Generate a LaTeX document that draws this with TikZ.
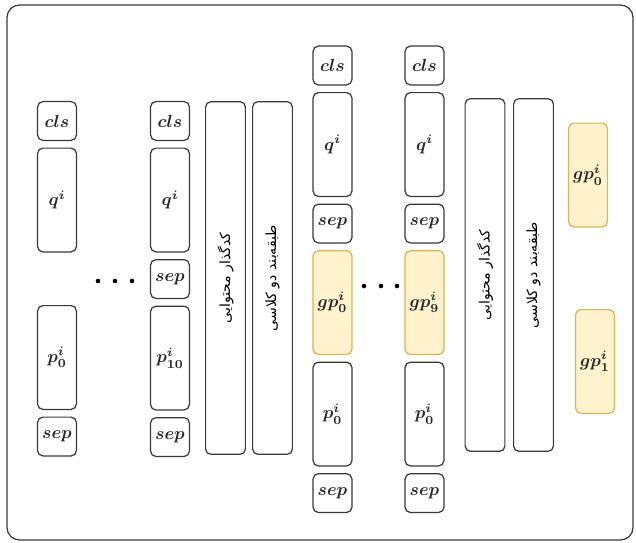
\documentclass[tikz,border=0pt]{standalone}
\usepackage{fontspec}
\usetikzlibrary{positioning}
\newfontfamily\persianfont[Script=Arabic]{DejaVu Sans}
\TeXXeTstate=1
\definecolor{gpfill}{HTML}{FFF2CC}
\definecolor{gpline}{HTML}{D6B656}
\definecolor{boxline}{HTML}{3A3A3A}

\begin{document}
\begin{tikzpicture}[
  x=0.02cm, y=-0.02cm,
  token/.style={
    draw=boxline,
    line width=0.7pt,
    rounded corners=3pt,
    fill=white,
    text=black!85,
    font=\boldmath,
    minimum width=0.776cm,
    minimum height=0.776cm,
    inner sep=0pt,
  },
  segment/.style={
    token,
    minimum height=2.076cm,
  },
  golden/.style={
    segment,
    draw=gpline,
    fill=gpfill,
  },
  module/.style={
    draw=boxline,
    line width=0.7pt,
    rounded corners=3pt,
    rotate=90,
    minimum width=7.055cm,
    minimum height=0.795cm,
    inner sep=0pt,
    font=\persianfont\footnotesize,
  }
]
  \useasboundingbox (0,0) rectangle (636,542);
  \draw[boxline, line width=0.7pt, rounded corners=0.25cm] (7,5) rectangle (633,540);

  % === FIRST STAGE: query with passages ===
  % input 0 (no sep after the query)
  \node[token] (a-cls) at (57,121) {$cls$};
  \node[segment, below=0.13cm of a-cls] (a-q) {$q^i$};
  \node[segment] (a-p) at (57,357.5) {$p^i_0$};
  \node[token, below=0.13cm of a-p] (a-sep) {$sep$};

  % input 10
  \node[token] (b-cls) at (170,121) {$cls$};
  \node[segment, below=0.13cm of b-cls] (b-q) {$q^i$};
  \node[token, below=0.13cm of b-q] (b-sep1) {$sep$};
  \node[segment, below=0.13cm of b-sep1] (b-p) {$p^i_{10}$};
  \node[token, below=0.13cm of b-p] (b-sep2) {$sep$};

  \foreach \x in {98,115,132}
    \fill (\x,281) circle (1.3pt);

  % encoder and classifier
  \node[module] (enc-a) at (225.5,278) {\beginR کدگذار محتوایی\endR};
  \node[module] (clf-a) at (272.5,278) {\beginR طبقه‌بند دو کلاسی\endR};

  % === SECOND STAGE: query, golden passage, passage ===
  \node[token] (c-cls) at (332.5,65.5) {$cls$};
  \node[segment, below=0.13cm of c-cls] (c-q) {$q^i$};
  \node[token, below=0.13cm of c-q] (c-sep1) {$sep$};
  \node[golden, below=0.13cm of c-sep1] (c-gp) {$gp^i_0$};
  \node[segment, below=0.13cm of c-gp] (c-p) {$p^i_0$};
  \node[token, below=0.13cm of c-p] (c-sep2) {$sep$};

  \node[token] (d-cls) at (424.5,65.5) {$cls$};
  \node[segment, below=0.13cm of d-cls] (d-q) {$q^i$};
  \node[token, below=0.13cm of d-q] (d-sep1) {$sep$};
  \node[golden, below=0.13cm of d-sep1] (d-gp) {$gp^i_9$};
  \node[segment, below=0.13cm of d-gp] (d-p) {$p^i_0$};
  \node[token, below=0.13cm of d-p] (d-sep2) {$sep$};

  \foreach \x in {364,381,397}
    \fill (\x,286) circle (1.3pt);

  \node[module] (enc-b) at (485,275) {\beginR کدگذار محتوایی\endR};
  \node[module] (clf-b) at (533.5,275) {\beginR طبقه‌بند دو کلاسی\endR};

  % outputs
  \node[golden] (out-0) at (588,175) {$gp^i_0$};
  \node[golden] (out-1) at (595,361.5) {$gp^i_1$};

\end{tikzpicture}
\end{document}
